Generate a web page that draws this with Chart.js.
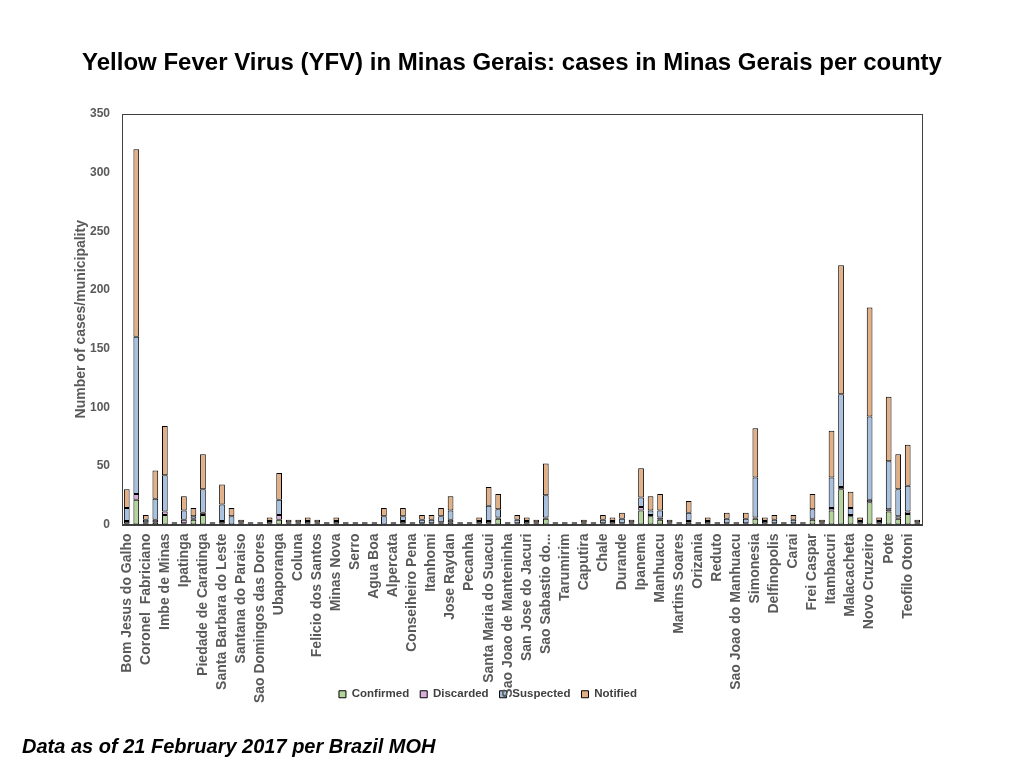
<!DOCTYPE html>
<html>
<head>
<meta charset="utf-8">
<script src="https://cdn.jsdelivr.net/npm/chart.js@4.4.1/dist/chart.umd.min.js"></script>
<style>
  html, body { margin: 0; padding: 0; background: #fff; }
  #wrap { position: relative; width: 1024px; height: 768px; }
  #title {
    position: absolute; left: 0; top: 48px; width: 1024px; text-align: center;
    font: bold 24px 'Liberation Sans', Arial, sans-serif; color: #000;
  }
  #note {
    position: absolute; left: 22px; top: 735px;
    font: italic bold 20px 'Liberation Sans', Arial, sans-serif; color: #000;
  }
</style>
</head>
<body>
<div id="wrap">
  <canvas id="chart" width="1024" height="768"></canvas>
  <div id="title">Yellow Fever Virus (YFV) in Minas Gerais: cases in Minas Gerais per county</div>
  <div id="note">Data as of 21 February 2017 per Brazil MOH</div>
</div>
<script>
// every other county is labelled on the axis, like the original
const labelledCounties = [
    'Bom Jesus do Galho', 'Coronel  Fabriciano', 'Imbe de Minas', 'Ipatinga', 'Piedade de Caratinga',
    'Santa Barbara do Leste', 'Santana do Paraiso', 'Sao Domingos das Dores', 'Ubaporanga', 'Coluna',
    'Felicio dos Santos', 'Minas Nova', 'Serro', 'Agua Boa', 'Alpercata',
    'Conseiheiro Pena', 'Itanhomi', 'Jose Raydan', 'Pecanha', 'Santa Maria do Suacui',
    'Sao Joao de Manteninha', 'San Jose do Jacuri', 'Sao Sabastio do...', 'Tarumirim', 'Caputira',
    'Chale', 'Durande', 'Ipanema', 'Manhuacu', 'Martins Soares',
    'Orizania', 'Reduto', 'Sao Joao do Manhuacu', 'Simonesia', 'Delfinopolis',
    'Carai', 'Frei Caspar', 'Itambacuri', 'Malacacheta', 'Novo Cruzeiro',
    'Pote', 'Teofilo Otoni',
];

const confirmed = [
    1, 21, 1, 2, 8, 0, 1, 4, 8, 0,
    1, 0, 0, 0, 0, 0, 4, 0, 0, 0,
    0, 0, 0, 0, 0, 0, 0, 0, 0, 1,
    0, 0, 0, 1, 2, 0, 0, 0, 1, 5,
    0, 0, 0, 0, 5, 0, 0, 0, 0, 0,
    0, 0, 0, 0, 12, 7, 4, 0, 0, 2,
    0, 0, 0, 0, 0, 0, 5, 0, 0, 0,
    0, 0, 4, 0, 12, 30, 7, 0, 19, 0,
    11, 5, 9, 0,
];
const discarded = [
    2, 5, 1, 2, 3, 1, 3, 1, 2, 1,
    2, 0, 1, 1, 1, 1, 4, 1, 1, 1,
    1, 1, 1, 1, 1, 1, 1, 0, 1, 2,
    1, 1, 1, 1, 2, 1, 1, 1, 2, 1,
    1, 1, 1, 1, 1, 1, 1, 1, 1, 1,
    1, 1, 1, 1, 3, 1, 2, 1, 1, 1,
    1, 1, 1, 1, 1, 1, 1, 1, 1, 1,
    1, 1, 1, 1, 2, 2, 1, 1, 2, 1,
    2, 2, 2, 1,
];
const suspected = [
    11, 134, 2, 18, 31, 1, 8, 2, 20, 1,
    14, 7, 1, 1, 1, 2, 13, 1, 1, 2,
    1, 1, 2, 1, 1, 1, 1, 7, 1, 4,
    1, 3, 3, 5, 8, 1, 1, 2, 13, 7,
    1, 3, 2, 1, 19, 1, 1, 1, 1, 1,
    3, 2, 4, 1, 8, 4, 6, 1, 1, 7,
    1, 2, 1, 4, 1, 4, 34, 2, 3, 1,
    3, 1, 8, 1, 26, 79, 6, 2, 71, 2,
    41, 23, 22, 1,
];
const notified = [
    16, 160, 4, 24, 42, 0, 12, 7, 30, 0,
    17, 7, 2, 0, 0, 3, 23, 2, 2, 3,
    2, 0, 3, 0, 0, 0, 0, 7, 0, 7,
    0, 4, 4, 7, 12, 0, 0, 3, 16, 13,
    0, 4, 3, 2, 27, 0, 0, 0, 2, 0,
    4, 3, 5, 2, 25, 12, 14, 2, 0, 10,
    0, 3, 0, 5, 0, 5, 42, 3, 4, 0,
    4, 0, 13, 2, 40, 110, 14, 3, 93, 3,
    55, 30, 35, 2,
];

const yTicks = [0, 50, 100, 150, 200, 250, 300, 350];

const categories = [];
labelledCounties.forEach((name) => {
    categories.push(name);
    categories.push('');
});

const AXIS_FONT = "'Liberation Sans', Arial, sans-serif";
const GREY = '#595959';

function series(label, data, color) {
    return {
        label,
        data,
        backgroundColor: color,
        borderColor: '#000',
        borderWidth: 1,
        borderSkipped: false,
        barPercentage: 0.6,
        categoryPercentage: 1,
    };
}

const plotFrame = {
    id: 'plotFrame',
    // long county names run past the axis box, as in the original; don't clip them
    afterLayout(chart) {
        chart.scales.x.bottom = chart.height;
        chart.legend.left -= 7;
        chart.legend.right -= 7;
    },
    afterDraw(chart) {
        const {ctx, chartArea: a} = chart;
        ctx.save();
        ctx.strokeStyle = '#404040';
        ctx.lineWidth = 1;
        ctx.strokeRect(Math.round(a.left) + 0.5, Math.round(a.top) + 0.5,
            Math.round(a.right - a.left), Math.round(a.bottom - a.top));
        ctx.restore();
    },
};

new Chart(document.getElementById('chart'), {
    type: 'bar',
    data: {
        labels: categories,
        datasets: [
            series('Confirmed', confirmed, '#b3d49b'),
            series('Discarded', discarded, '#d9addc'),
            series('Suspected', suspected, '#a9c1e1'),
            series('Notified', notified, '#e3b086'),
        ],
    },
    options: {
        responsive: false,
        animation: false,
        layout: { padding: { left: 68, right: 102, top: 114, bottom: 58 } },
        scales: {
            x: {
                stacked: true,
                grid: { display: false, drawTicks: false },
                border: { display: true, color: '#404040' },
                ticks: {
                    autoSkip: false,
                    maxRotation: 90,
                    minRotation: 90,
                    padding: 9,
                    color: GREY,
                    font: { family: AXIS_FONT, size: 14, weight: 'bold' },
                },
                afterFit(scale) { scale.height = 153; },
            },
            y: {
                stacked: true,
                min: 0,
                max: 350,
                afterBuildTicks(scale) { scale.ticks = yTicks.map((v) => ({ value: v })); },
                grid: { display: false, drawTicks: false },
                border: { display: true, color: '#404040' },
                ticks: {
                    padding: 12,
                    color: GREY,
                    font: { family: AXIS_FONT, size: 12, weight: 'bold' },
                },
                title: {
                    display: true,
                    text: 'Number of cases/municipality',
                    color: GREY,
                    padding: { top: 5, bottom: 0 },
                    font: { family: AXIS_FONT, size: 14, weight: 'bold' },
                },
                afterFit(scale) { scale.width = 122 - 68; },
            },
        },
        plugins: {
            legend: {
                position: 'bottom',
                labels: {
                    boxWidth: 7,
                    boxHeight: 7,
                    padding: 11,
                    color: '#404040',
                    font: { family: AXIS_FONT, size: 11.5, weight: 'bold' },
                },
            },
            tooltip: { enabled: false },
        },
    },
    plugins: [plotFrame],
});
</script>
</body>
</html>
